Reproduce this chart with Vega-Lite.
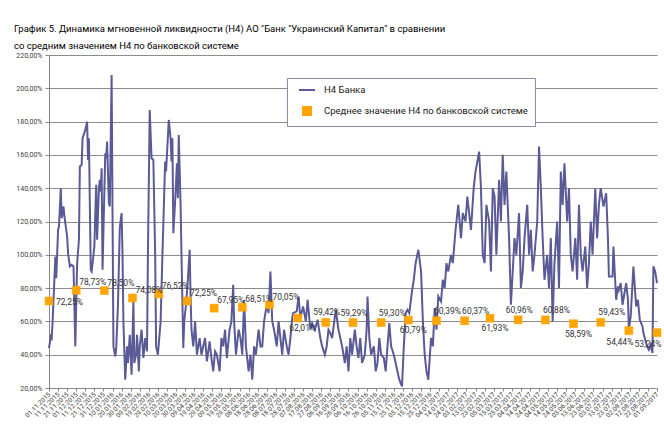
{
  "$schema": "https://vega.github.io/schema/vega-lite/v6.json",
  "width": 608,
  "height": 333,
  "autosize": {"type": "none"},
  "padding": {"left": 49, "top": 55, "right": 7, "bottom": 37},
  "background": "white",
  "config": {
    "locale": {"number": {"decimal": ",", "thousands": " ", "grouping": [3], "currency": ["", ""]}},
    "font": "Roboto",
    "view": {"stroke": null},
    "legend": {
      "orient": "none",
      "legendX": 238,
      "legendY": 23,
      "padding": 7,
      "rowPadding": 8,
      "fillColor": "white",
      "strokeColor": "#8a8aa8",
      "symbolSize": 64,
      "symbolStrokeWidth": 2,
      "symbolOffset": 8,
      "labelOffset": 12,
      "labelFontSize": 9.5,
      "labelColor": "#202020",
      "labelFont": "Roboto",
      "labelLimit": 400
    }
  },
  "title": {
    "text": [
      "График 5. Динамика мгновенной ликвидности (Н4) АО \"Банк \"Украинский Капитал\" в сравнении",
      "со средним значением Н4 по банковской системе"
    ],
    "anchor": "start",
    "frame": "group",
    "dx": -35,
    "offset": 1,
    "fontSize": 9.5,
    "fontWeight": "normal",
    "font": "Roboto",
    "color": "#000000",
    "lineHeight": 17
  },
  "datasets": {
    "bank": [
      {"d":0,"v":0.44},{"d":2,"v":0.51},{"d":3,"v":0.50},{"d":4,"v":0.60},{"d":7,"v":0.99},{"d":8,"v":0.86},{"d":10,"v":1.15},{"d":11,"v":1.17},{"d":13,"v":1.40},{"d":14,"v":1.22},{"d":16,"v":1.29},{"d":17,"v":1.23},{"d":20,"v":1.11},{"d":21,"v":1.01},{"d":23,"v":0.93},{"d":25,"v":0.94},{"d":27,"v":0.93},{"d":29,"v":0.45},{"d":31,"v":0.95},{"d":33,"v":1.09},{"d":34,"v":1.53},{"d":36,"v":1.54},{"d":37,"v":1.70},{"d":40,"v":1.75},{"d":42,"v":1.80},{"d":43,"v":1.57},{"d":44,"v":1.70},{"d":46,"v":0.91},{"d":47,"v":0.90},{"d":50,"v":1.05},{"d":52,"v":1.42},{"d":53,"v":1.09},{"d":55,"v":1.40},{"d":56,"v":1.45},{"d":57,"v":1.38},{"d":58,"v":1.52},{"d":59,"v":0.91},{"d":62,"v":1.61},{"d":63,"v":1.58},{"d":64,"v":1.68},{"d":66,"v":1.31},{"d":67,"v":1.29},{"d":69,"v":2.08},{"d":71,"v":0.45},{"d":73,"v":0.39},{"d":74,"v":0.43},{"d":76,"v":0.70},{"d":78,"v":1.16},{"d":80,"v":1.25},{"d":81,"v":1.00},
      {"d":82,"v":0.60},{"d":84,"v":0.25},{"d":86,"v":0.45},{"d":87,"v":0.35},{"d":89,"v":0.52},{"d":91,"v":0.28},{"d":93,"v":0.72},{"d":94,"v":0.35},{"d":96,"v":0.40},{"d":97,"v":0.52},{"d":99,"v":0.30},{"d":100,"v":0.45},{"d":102,"v":0.55},{"d":104,"v":0.38},{"d":106,"v":0.50},{"d":108,"v":0.42},
      {"d":109,"v":1.00},{"d":111,"v":1.87},{"d":113,"v":1.58},{"d":115,"v":1.57},{"d":117,"v":1.00},{"d":118,"v":0.45},{"d":120,"v":0.40},{"d":123,"v":0.60},{"d":125,"v":1.00},{"d":128,"v":1.56},{"d":129,"v":1.50},{"d":132,"v":1.81},{"d":134,"v":1.70},{"d":135,"v":1.56},{"d":136,"v":1.70},{"d":137,"v":1.13},{"d":139,"v":1.32},{"d":141,"v":1.55},{"d":142,"v":1.34},{"d":143,"v":1.72},{"d":145,"v":1.30},{"d":146,"v":1.00},{"d":148,"v":0.44},
      {"d":149,"v":0.60},{"d":151,"v":0.70},{"d":153,"v":0.85},{"d":155,"v":1.03},{"d":156,"v":0.75},{"d":157,"v":0.55},{"d":159,"v":0.45},{"d":161,"v":0.60},{"d":163,"v":0.40},{"d":166,"v":0.50},{"d":168,"v":0.40},{"d":170,"v":0.45},{"d":172,"v":0.50},{"d":174,"v":0.36},{"d":177,"v":0.48},{"d":179,"v":0.38},{"d":181,"v":0.30},{"d":183,"v":0.42},{"d":185,"v":0.40},{"d":188,"v":0.30},{"d":190,"v":0.50},{"d":192,"v":0.45},{"d":194,"v":0.55},{"d":196,"v":0.38},{"d":199,"v":0.55},{"d":201,"v":0.60},{"d":203,"v":0.82},{"d":204,"v":0.60},{"d":206,"v":0.40},{"d":209,"v":0.55},{"d":211,"v":0.50},{"d":213,"v":0.40},{"d":215,"v":0.73},{"d":217,"v":0.45},{"d":220,"v":0.30},{"d":222,"v":0.40},{"d":224,"v":0.25},{"d":226,"v":0.45},{"d":228,"v":0.40},{"d":231,"v":0.55},{"d":233,"v":0.45},
      {"d":235,"v":0.45},{"d":237,"v":0.60},{"d":240,"v":0.70},{"d":242,"v":0.65},{"d":244,"v":0.90},{"d":246,"v":0.60},{"d":248,"v":0.55},{"d":251,"v":0.45},{"d":253,"v":0.60},{"d":255,"v":0.50},{"d":257,"v":0.40},{"d":259,"v":0.55},{"d":262,"v":0.45},{"d":264,"v":0.40},{"d":266,"v":0.50},{"d":268,"v":0.62},{"d":269,"v":0.65},{"d":273,"v":0.66},{"d":275,"v":0.75},{"d":277,"v":0.62},{"d":280,"v":0.69},{"d":283,"v":0.60},{"d":285,"v":0.73},{"d":288,"v":0.55},{"d":290,"v":0.59},{"d":293,"v":0.55},{"d":296,"v":0.61},{"d":299,"v":0.50},{"d":301,"v":0.45},{"d":304,"v":0.40},{"d":306,"v":0.45},{"d":308,"v":0.55},{"d":310,"v":0.53},{"d":312,"v":0.50},{"d":316,"v":0.67},{"d":319,"v":0.55},{"d":321,"v":0.50},{"d":323,"v":0.45},
      {"d":326,"v":0.35},{"d":328,"v":0.45},{"d":330,"v":0.30},{"d":332,"v":0.50},{"d":334,"v":0.40},{"d":337,"v":0.55},{"d":339,"v":0.45},{"d":341,"v":0.38},{"d":343,"v":0.50},{"d":345,"v":0.35},{"d":348,"v":0.40},{"d":350,"v":0.55},{"d":351,"v":0.75},{"d":353,"v":0.50},{"d":355,"v":0.40},{"d":358,"v":0.45},{"d":360,"v":0.30},{"d":362,"v":0.35},{"d":364,"v":0.50},{"d":366,"v":0.40},{"d":369,"v":0.38},{"d":371,"v":0.30},{"d":373,"v":0.45},{"d":375,"v":0.59},{"d":377,"v":0.45},{"d":380,"v":0.40},{"d":382,"v":0.35},{"d":384,"v":0.30},{"d":386,"v":0.25},{"d":389,"v":0.21},{"d":391,"v":0.45},{"d":393,"v":0.65},{"d":395,"v":0.67},{"d":397,"v":0.65},{"d":400,"v":0.78},{"d":402,"v":0.85},{"d":404,"v":0.95},{"d":407,"v":1.03},{"d":410,"v":0.90},{"d":412,"v":0.60},{"d":414,"v":0.40},{"d":416,"v":0.30},{"d":418,"v":0.25},{"d":421,"v":0.50},{"d":423,"v":0.45},{"d":425,"v":0.68},{"d":427,"v":0.55},{"d":429,"v":0.75},{"d":432,"v":0.72},{"d":434,"v":0.85},{"d":436,"v":0.80},{"d":438,"v":0.95},{"d":440,"v":0.90},{"d":443,"v":1.00},{"d":445,"v":0.95},
      {"d":448,"v":1.15},{"d":451,"v":1.30},{"d":454,"v":1.10},{"d":456,"v":1.25},{"d":459,"v":1.20},{"d":461,"v":1.35},{"d":465,"v":1.15},{"d":468,"v":1.40},{"d":470,"v":1.50},{"d":474,"v":1.62},{"d":476,"v":1.40},{"d":478,"v":1.00},{"d":480,"v":0.95},{"d":482,"v":1.30},{"d":485,"v":1.20},{"d":487,"v":0.90},{"d":489,"v":1.40},{"d":491,"v":1.35},{"d":493,"v":1.00},{"d":496,"v":1.45},{"d":498,"v":1.20},{"d":500,"v":1.60},{"d":502,"v":1.30},{"d":504,"v":1.50},{"d":507,"v":1.10},{"d":509,"v":0.70},{"d":511,"v":0.90},{"d":513,"v":1.10},{"d":515,"v":1.00},{"d":518,"v":1.25},{"d":520,"v":0.80},{"d":522,"v":0.90},{"d":524,"v":1.10},{"d":527,"v":1.30},{"d":529,"v":1.00},{"d":531,"v":1.15},{"d":533,"v":0.90},{"d":535,"v":1.00},{"d":538,"v":1.20},{"d":540,"v":1.65},{"d":542,"v":1.40},
      {"d":544,"v":1.10},{"d":546,"v":0.85},{"d":549,"v":1.00},{"d":551,"v":0.80},{"d":553,"v":1.10},{"d":555,"v":0.60},{"d":557,"v":0.95},{"d":560,"v":1.20},{"d":562,"v":0.80},{"d":564,"v":1.50},{"d":566,"v":1.30},{"d":568,"v":1.55},{"d":571,"v":1.20},{"d":573,"v":1.40},{"d":575,"v":1.00},{"d":577,"v":0.90},{"d":580,"v":1.10},{"d":582,"v":0.85},{"d":584,"v":1.30},{"d":586,"v":1.00},{"d":588,"v":0.90},{"d":591,"v":1.05},{"d":593,"v":0.80},{"d":595,"v":0.95},{"d":597,"v":1.20},{"d":599,"v":1.00},{"d":602,"v":1.40},{"d":604,"v":1.10},{"d":606,"v":1.30},{"d":608,"v":1.40},{"d":611,"v":1.29},{"d":614,"v":1.37},{"d":616,"v":1.09},{"d":617,"v":0.87},{"d":621,"v":0.87},{"d":622,"v":1.05},{"d":625,"v":0.73},{"d":627,"v":0.81},{"d":628,"v":0.79},{"d":630,"v":0.83},{"d":632,"v":0.70},{"d":636,"v":0.83},{"d":638,"v":0.73},{"d":639,"v":0.55},{"d":641,"v":0.63},{"d":644,"v":0.93},{"d":647,"v":0.69},{"d":649,"v":0.73},{"d":651,"v":0.61},{"d":654,"v":0.57},{"d":655,"v":0.53},{"d":659,"v":0.45},{"d":661,"v":0.43},{"d":663,"v":0.46},{"d":665,"v":0.41},{"d":666,"v":0.93},{"d":668,"v":0.90},{"d":670,"v":0.83}
    ],
    "avg": [
      {"d":0,"v":0.7225},{"d":30,"v":0.7873},{"d":61,"v":0.7850},{"d":92,"v":0.7408},{"d":121,"v":0.7652},{"d":152,"v":0.7225},{"d":182,"v":0.6795},{"d":213,"v":0.6851},{"d":243,"v":0.7005},{"d":274,"v":0.6201},{"d":305,"v":0.5942},{"d":335,"v":0.5929},{"d":366,"v":0.5930},{"d":396,"v":0.6079},{"d":427,"v":0.6039},{"d":458,"v":0.6037},{"d":486,"v":0.6193},{"d":517,"v":0.6096},{"d":547,"v":0.6088},{"d":578,"v":0.5859},{"d":608,"v":0.5943},{"d":639,"v":0.5444},{"d":670,"v":0.5324}
    ]
  },
  "encoding": {
    "x": {
      "field": "d",
      "type": "quantitative",
      "scale": {"domain": [0, 670], "nice": false, "zero": false},
      "axis": {
        "values": [0,10,20,30,40,50,60,70,80,90,100,110,120,130,140,150,160,170,180,190,200,210,220,230,240,250,260,270,280,290,300,310,320,330,340,350,360,370,380,390,400,410,420,430,440,450,460,470,480,490,500,510,520,530,540,550,560,570,580,590,600,610,620,630,640,650,660,670],
        "labelExpr": "timeFormat(datetime(2015, 10, 1 + datum.value), '%d.%m.%Y')",
        "labelAngle": -45,
        "labelAlign": "right",
        "labelBaseline": "middle",
        "labelFontSize": 6.5,
        "labelColor": "#404040",
        "labelOverlap": false,
        "labelPadding": 2,
        "title": null,
        "grid": false,
        "domainColor": "#888888",
        "tickColor": "#888888",
        "tickSize": 3
      }
    },
    "y": {
      "field": "v",
      "type": "quantitative",
      "scale": {"domain": [0.2, 2.2], "nice": false, "zero": false},
      "axis": {
        "values": [0.2,0.4,0.6,0.8,1.0,1.2,1.4,1.6,1.8,2.0,2.2],
        "format": ".2%",
        "labelFontSize": 7,
        "labelColor": "#404040",
        "labelPadding": 3,
        "title": null,
        "grid": true,
        "gridColor": "#8c8c8c",
        "domainColor": "#888888",
        "tickColor": "#888888",
        "tickSize": 4
      }
    }
  },
  "layer": [
    {
      "data": {"name": "bank"},
      "mark": {"type": "line", "strokeWidth": 2, "interpolate": "linear"},
      "encoding": {
        "stroke": {
          "datum": "Н4 Банка",
          "scale": {"domain": ["Н4 Банка", "Среднее значение Н4 по банковской системе"], "range": ["#5a5a96", "#ffa500"]},
          "legend": {"title": null}
        }
      }
    },
    {
      "data": {"name": "avg"},
      "mark": {"type": "point", "filled": true, "size": 64, "opacity": 1, "strokeWidth": 0.5},
      "encoding": {
        "stroke": {"datum": "Среднее значение Н4 по банковской системе", "legend": {"title": null}},
        "fill": {
          "datum": "Среднее значение Н4 по банковской системе",
          "scale": {"domain": ["Н4 Банка", "Среднее значение Н4 по банковской системе"], "range": ["#5a5a96", "#ffa500"]},
          "legend": {"title": null}
        },
        "shape": {
          "datum": "Среднее значение Н4 по банковской системе",
          "scale": {"domain": ["Н4 Банка", "Среднее значение Н4 по банковской системе"], "range": ["M-2,0H2", "square"]},
          "legend": {"title": null}
        }
      }
    },
    {
      "data": {"name": "avg"},
      "transform": [{"filter": {"field": "d", "oneOf": [0]}}],
      "mark": {"type": "text", "align": "left", "baseline": "middle", "dx": 7, "dy": 1, "fontSize": 8.5, "color": "#333333"},
      "encoding": {"text": {"field": "v", "type": "quantitative", "format": ".2%"}}
    },
    {
      "data": {"name": "avg"},
      "transform": [{"filter": {"field": "d", "oneOf": [30, 61, 92, 121, 152, 182, 213, 243]}}],
      "mark": {"type": "text", "align": "left", "baseline": "middle", "dx": 3, "dy": -8, "fontSize": 8.5, "color": "#333333"},
      "encoding": {"text": {"field": "v", "type": "quantitative", "format": ".2%"}}
    },
    {
      "data": {"name": "avg"},
      "transform": [{"filter": {"field": "d", "oneOf": [305, 335, 517]}}],
      "mark": {"type": "text", "align": "center", "baseline": "middle", "dx": 1, "dy": -10, "fontSize": 8.5, "color": "#333333"},
      "encoding": {"text": {"field": "v", "type": "quantitative", "format": ".2%"}}
    },
    {
      "data": {"name": "avg"},
      "transform": [{"filter": {"field": "d", "oneOf": [366, 427, 458, 547, 608]}}],
      "mark": {"type": "text", "align": "center", "baseline": "middle", "dx": 11, "dy": -10, "fontSize": 8.5, "color": "#333333"},
      "encoding": {"text": {"field": "v", "type": "quantitative", "format": ".2%"}}
    },
    {
      "data": {"name": "avg"},
      "transform": [{"filter": {"field": "d", "oneOf": [274, 396, 486, 578]}}],
      "mark": {"type": "text", "align": "center", "baseline": "middle", "dx": 5, "dy": 10, "fontSize": 8.5, "color": "#333333"},
      "encoding": {"text": {"field": "v", "type": "quantitative", "format": ".2%"}}
    },
    {
      "data": {"name": "avg"},
      "transform": [{"filter": {"field": "d", "oneOf": [639, 670]}}],
      "mark": {"type": "text", "align": "center", "baseline": "middle", "dx": -9, "dy": 11, "fontSize": 8.5, "color": "#333333"},
      "encoding": {"text": {"field": "v", "type": "quantitative", "format": ".2%"}}
    }
  ]
}
